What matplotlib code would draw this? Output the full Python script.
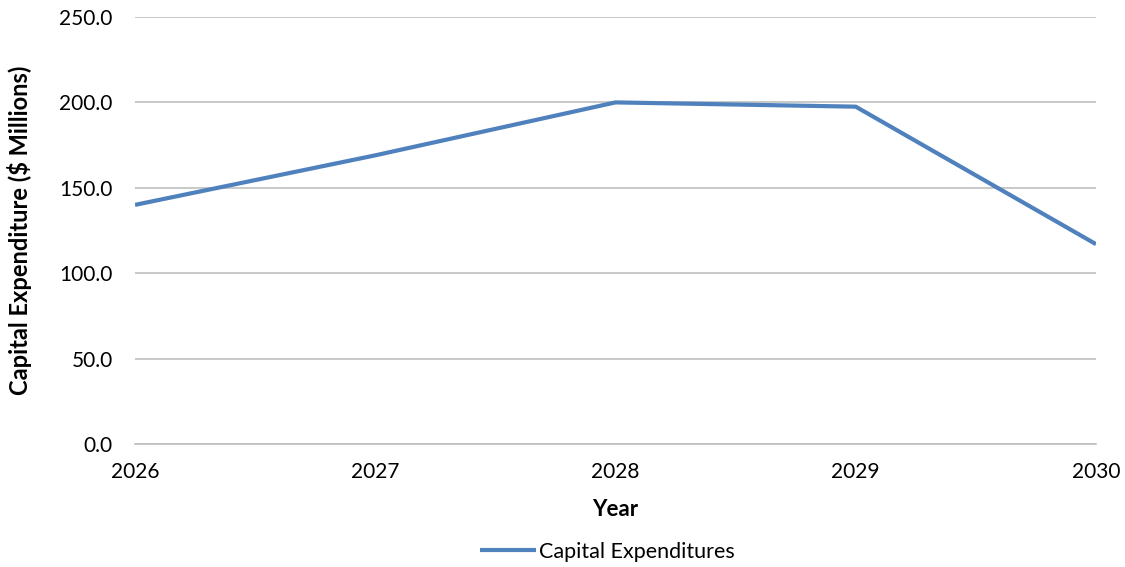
import matplotlib.pyplot as plt
from matplotlib.ticker import FormatStrFormatter

years = [2026, 2027, 2028, 2029, 2030]
capex = [140.0, 169.0, 200.0, 197.5, 117.0]
series_name = 'Capital Expenditures'

plt.rcParams['font.family'] = ['Lato', 'DejaVu Sans']

fig = plt.figure(figsize=(11.25, 5.67), dpi=100)
ax = fig.add_axes([135 / 1125, 1 - 444 / 567, (1096 - 135) / 1125, (444 - 17) / 567])

ax.plot(years, capex, color='#4F81BD', lw=3, label=series_name, solid_capstyle='butt')

ax.set_xlim(2026, 2030)
ax.set_ylim(0, 250)
ax.set_xticks(years)
ax.set_yticks([0, 50, 100, 150, 200, 250])
ax.yaxis.set_major_formatter(FormatStrFormatter('%.1f'))
ax.grid(axis='y', color='#BFBFBF', lw=1.2)
ax.set_axisbelow(True)
for s in ['top', 'right', 'left']:
    ax.spines[s].set_visible(False)
ax.spines['bottom'].set_color('#BFBFBF')
ax.spines['bottom'].set_linewidth(1.2)
ax.tick_params(length=0, labelsize=15, colors='black')
ax.tick_params(axis='x', pad=13)
ax.tick_params(axis='y', pad=16)

ax.set_xlabel('Year', fontsize=16, fontweight='bold', labelpad=12)
ax.set_ylabel('Capital Expenditure ($ Millions)', fontsize=17, fontweight='bold', labelpad=20)

fig.legend(loc='center', bbox_to_anchor=(0.54, 1 - 552 / 567), frameon=False,
           fontsize=15.5, handlelength=2.6, handletextpad=0.15)

fig.savefig('out.png', dpi=100)
